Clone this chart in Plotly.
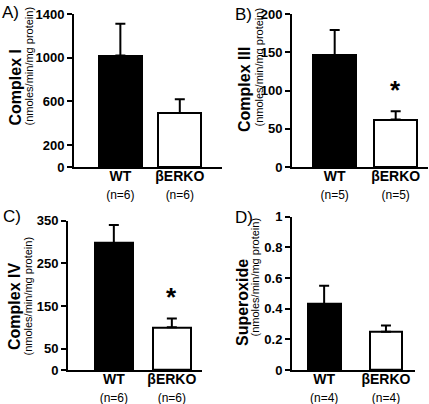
import plotly.graph_objects as go

W, H = 429, 404

# ---- data ----
groups = ["WT", "βERKO"]

c1_mean = [1020, 495]
c1_err = [290, 125]
c1_n = [6, 6]
c1_ticks = [0, 200, 600, 1000, 1400]

c3_mean = [146, 62]
c3_err = [33, 11]
c3_n = [5, 5]
c3_ticks = [0, 50, 100, 150, 200]

c4_mean = [298, 100]
c4_err = [42, 21]
c4_n = [6, 6]
c4_ticks = [0, 50, 150, 250, 350]

so_mean = [0.43, 0.25]
so_err = [0.12, 0.04]
so_n = [4, 4]
so_ticks = [0, 0.2, 0.4, 0.6, 0.8, 1]

panels = [
    dict(mean=c1_mean, err=c1_err, n=c1_n, ticks=c1_ticks, ymax=1400,
         title="Complex I", letter="A)", star=False),
    dict(mean=c3_mean, err=c3_err, n=c3_n, ticks=c3_ticks, ymax=200,
         title="Complex III", letter="B)", star=True),
    dict(mean=c4_mean, err=c4_err, n=c4_n, ticks=c4_ticks, ymax=350,
         title="Complex IV", letter="C)", star=True),
    dict(mean=so_mean, err=so_err, n=so_n, ticks=so_ticks, ymax=1,
         title="Superoxide", letter="D)", star=False),
]

# ---- layout geometry (pixels) ----
geom = [
    dict(xd=(74, 222), yd=(14, 167), xr=(-0.78, 1.71), bw=0.72,
         mt=(15.5, 88), st=(28.5, 66), lt=(0, 1)),
    dict(xd=(292, 428), yd=(14, 167), xr=(-0.70, 1.53), bw=0.71,
         mt=(245, 90), st=(258.5, 67), lt=(233, 3)),
    dict(xd=(68, 202), yd=(220.7, 370), xr=(-0.79, 1.52), bw=0.66,
         mt=(14, 307), st=(27.5, 296), lt=(1, 205)),
    dict(xd=(292, 415), yd=(216.7, 370), xr=(-0.52, 1.47), bw=0.53,
         mt=(242, 303), st=(254.5, 277), lt=(233, 206)),
]

FONT = "Liberation Sans, Arial, sans-serif"

fig = go.Figure()
annotations = []
layout_axes = {}

for i, (p, g) in enumerate(zip(panels, geom)):
    k = "" if i == 0 else str(i + 1)
    xa, ya = "x" + k, "y" + k
    fig.add_trace(go.Bar(
        x=[0, 1], y=p["mean"], width=g["bw"],
        marker=dict(color=["black", "white"], line=dict(color="black", width=2)),
        error_y=dict(type="data", symmetric=False, array=p["err"],
                     arrayminus=[0, 0], color="black", thickness=2, width=5),
        xaxis=xa, yaxis=ya, showlegend=False, cliponaxis=False,
    ))
    ticktext = [f"<b>{grp}</b><br><span style='font-size:12px'>(n={n})</span>"
                for grp, n in zip(groups, p["n"])]
    layout_axes["xaxis" + k] = dict(
        domain=[g["xd"][0] / W, g["xd"][1] / W], range=list(g["xr"]),
        anchor=ya, tickvals=[0, 1], ticktext=ticktext, ticks="",
        ticklabelstandoff=-5,
        showline=True, linecolor="black", linewidth=2, showgrid=False,
        zeroline=False, tickfont=dict(family=FONT, size=14, color="black"),
        fixedrange=True, automargin=False,
    )
    layout_axes["yaxis" + k] = dict(
        domain=[1 - g["yd"][1] / H, 1 - g["yd"][0] / H], range=[0, p["ymax"]],
        anchor=xa, tickvals=p["ticks"], ticks="outside", ticklen=5,
        tickwidth=2, tickcolor="black",
        showline=True, linecolor="black", linewidth=2, showgrid=False,
        zeroline=False,
        tickfont=dict(family=FONT, size=13, color="black", weight="bold"),
        fixedrange=True, automargin=False,
    )
    annotations.append(dict(
        text=f"<b>{p['title']}</b>", xref="paper", yref="paper",
        x=g["mt"][0] / W, y=1 - g["mt"][1] / H, xanchor="center", yanchor="middle",
        textangle=-90, showarrow=False, font=dict(family=FONT, size=16, color="black")))
    annotations.append(dict(
        text="(nmoles/min/mg protein)", xref="paper", yref="paper",
        x=g["st"][0] / W, y=1 - g["st"][1] / H, xanchor="center", yanchor="middle",
        textangle=-90, showarrow=False, font=dict(family=FONT, size=11, color="black")))
    annotations.append(dict(
        text=p["letter"], xref="paper", yref="paper",
        x=g["lt"][0] / W, y=1 - g["lt"][1] / H, xanchor="left", yanchor="top",
        showarrow=False, font=dict(family=FONT, size=17, color="black")))
    if p["star"]:
        annotations.append(dict(
            text="<b>*</b>", xref=xa, yref=ya, x=1, y=p["mean"][1] + p["err"][1],
            xanchor="center", yanchor="bottom", yshift=4, showarrow=False,
            font=dict(family=FONT, size=26, color="black")))

fig.update_layout(
    template="none",
    width=W, height=H, margin=dict(l=0, r=0, t=0, b=0, pad=0),
    paper_bgcolor="white", plot_bgcolor="white",
    annotations=annotations, bargap=0, **layout_axes,
)

fig.write_html(
    "out.html",
    config={"displayModeBar": False},
    post_script="document.body.style.margin='0';document.body.style.overflow='hidden';",
)
